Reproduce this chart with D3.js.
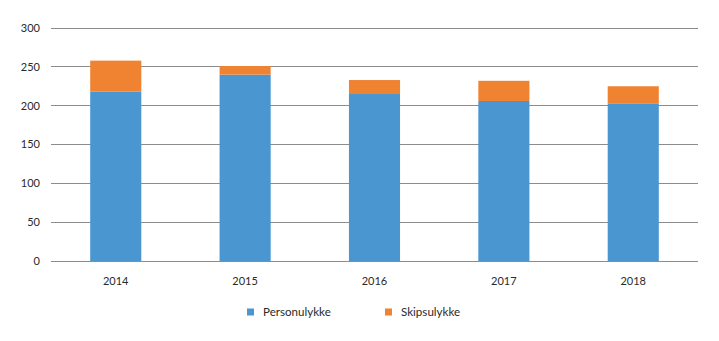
<!DOCTYPE html>
<html><head><meta charset="utf-8">
<script src="https://cdn.jsdelivr.net/npm/d3@7"></script>
<style>body{margin:0;background:#fff}svg{display:block}text{font-family:Lato,"Open Sans",sans-serif;fill:#2a2a2a}</style>
</head><body>
<svg id="c" width="719" height="341"></svg>
<script>
const years = ["2014","2015","2016","2017","2018"];
const personulykke = [218, 240, 215, 206, 203];
const skipsulykke = [40, 11, 18, 26, 22];
const yTicks = [0, 50, 100, 150, 200, 250, 300];
const seriesNames = ["Personulykke","Skipsulykke"];
const colors = ["#4a96d1","#f08332"];

const svg = d3.select("#c");
const m = {l:51, r:21, t:28, b:80};
const W = 719, H = 341;
const x = d3.scaleBand().domain(years).range([m.l, W-m.r]).padding(0.605).paddingOuter(0.303);
const y = d3.scaleLinear().domain([0,300]).range([261, 28]);

svg.append("g").selectAll("line").data(yTicks).join("line")
  .attr("x1", m.l).attr("x2", W-m.r)
  .attr("y1", d=>y(d)).attr("y2", d=>y(d))
  .attr("stroke", "#8c8c8c").attr("stroke-width", 1).attr("shape-rendering","crispEdges");

svg.append("g").selectAll("text").data(yTicks).join("text")
  .attr("x", 40).attr("y", d=>y(d)).attr("dy","0.35em")
  .attr("text-anchor","end").attr("font-size", 11).text(d=>d);

const data = years.map((yr,i)=>({year:yr, Personulykke:personulykke[i], Skipsulykke:skipsulykke[i]}));
const stack = d3.stack().keys(seriesNames)(data);

svg.append("g").selectAll("g").data(stack).join("g")
  .attr("fill", (d,i)=>colors[i])
  .selectAll("rect").data(d=>d).join("rect")
  .attr("x", d=>x(d.data.year)).attr("width", x.bandwidth())
  .attr("y", d=>y(d[1])).attr("height", d=>y(d[0])-y(d[1]));

svg.append("g").selectAll("text").data(years).join("text")
  .attr("x", d=>x(d)+x.bandwidth()/2).attr("y", 281).attr("dy","0.35em")
  .attr("text-anchor","middle").attr("font-size", 11).text(d=>d);

const legX = [247, 385];
const lg = svg.append("g").selectAll("g").data(seriesNames).join("g")
  .attr("transform", (d,i)=>`translate(${legX[i]},312)`);
lg.append("rect").attr("x",0).attr("y",-3.5).attr("width",7).attr("height",7).attr("fill",(d,i)=>colors[i]);
lg.append("text").attr("x",16).attr("y",0).attr("dy","0.35em").attr("font-size",11.6).text(d=>d);
</script>
</body></html>
